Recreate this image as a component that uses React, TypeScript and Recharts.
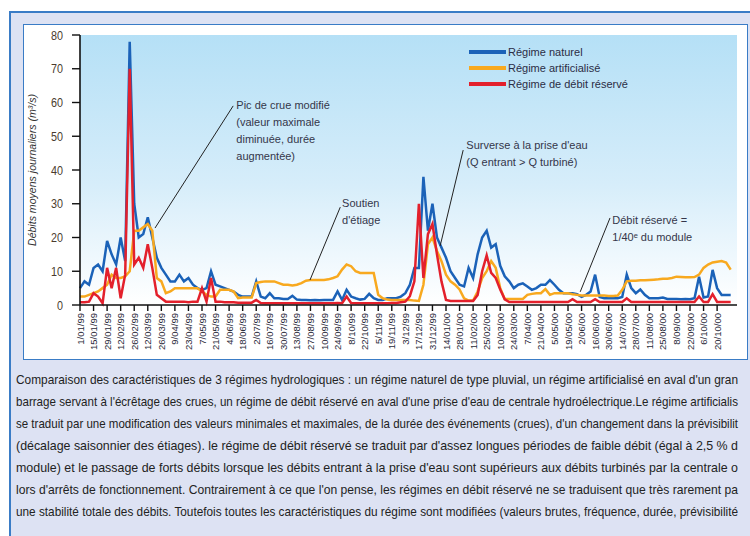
import React from "react";
import {
  LineChart,
  Line,
  XAxis,
  YAxis,
  CartesianGrid,
  Legend,
  ReferenceLine,
  ReferenceDot,
} from "recharts";

// Dates of the x-axis ticks (one every 14 days)
const dateLabels = [
  "1/01/99", "15/01/99", "29/01/99", "12/02/99", "26/02/99", "12/03/99", "26/03/99", "9/04/99",
  "23/04/99", "7/05/99", "21/05/99", "4/06/99", "18/06/99", "2/07/99", "16/07/99", "30/07/99",
  "13/08/99", "27/08/99", "10/09/99", "24/09/99", "8/10/99", "22/10/99", "5/11/99", "19/11/99",
  "3/12/99", "17/12/99", "31/12/99", "14/01/00", "28/01/00", "11/02/00", "25/02/00", "10/03/00",
  "24/03/00", "7/04/00", "21/04/00", "5/05/00", "19/05/00", "2/06/00", "16/06/00", "30/06/00",
  "14/07/00", "28/07/00", "11/08/00", "25/08/00", "8/09/00", "22/09/00", "6/10/00", "20/10/00",
];
const SAMPLES_PER_TICK = 3;

// Régime naturel (m3/s), one value every ~4.7 days
const naturel = [
  5, 7, 6, 11, 12, 10, 19, 15, 12, 20,
  13, 78, 30, 20, 21, 26, 20, 14, 11, 9,
  7, 7, 9, 7, 8, 6, 5, 4.5, 5, 10,
  6, 5.5, 5, 4.5, 4, 3, 2.5, 2.5, 2.5, 7,
  2.5, 2, 3.5, 2, 2, 1.8, 1.8, 2.7, 1.6, 1.5,
  1.5, 1.4, 1.5, 1.4, 1.5, 1.5, 1.5, 4, 1.5, 4.5,
  2.5, 2, 1.6, 1.8, 3.3, 2, 1.5, 1.5, 2, 2,
  2, 2.5, 3.5, 6, 11, 11, 38, 22, 30, 20,
  17, 14, 10, 8, 6, 5.5, 11, 8, 15, 20,
  22, 17, 18, 11.6, 8.5, 7, 5, 6, 6.4, 5.5,
  4.5, 5, 6, 6, 7.4, 6, 4.5, 3.5, 3.5, 3.5,
  3.2, 2.4, 3, 4, 9, 2.4, 2, 2, 2, 2,
  2.4, 9, 5, 3.5, 4.6, 3, 2, 2, 2, 2.2,
  1.8, 1.8, 1.8, 1.7, 1.8, 1.7, 2, 8.4, 2.2, 2.5,
  10.4, 5, 3, 3, 3,
];

// Régime artificialisé
const artificialise = [
  2.5, 2.5, 3, 3.5, 4, 5, 6, 9, 8, 8,
  8.5, 10, 22, 22, 23, 24, 22, 8, 7, 3.5,
  4, 5, 5, 5, 5, 5, 5, 4, 3, 2.5,
  2.5, 4.5, 4.5, 4.5, 4, 2, 2.2, 2.2, 2.2, 6.5,
  6.8, 7, 7, 7, 6.5, 6, 6, 5.8, 6, 6.5,
  7.2, 7.4, 7.4, 7.4, 7.4, 7.6, 8, 8.5, 10.5, 12,
  11.5, 10, 9.5, 9.5, 9.5, 9.5, 3, 2, 1.6, 1.5,
  1.5, 1.5, 1.5, 1.5, 1.3, 1.2, 6, 18, 20, 16,
  13, 9, 7, 6, 4.6, 2, 1.3, 1.3, 4, 8,
  10, 13, 11, 5, 1.8, 1.8, 1.8, 1.8, 1.8, 3,
  3.3, 3.5, 3.5, 4.7, 3, 3.5, 3.5, 3.5, 3.5, 3.2,
  3, 2.8, 2.8, 2.8, 2.8, 2.8, 2.8, 2.7, 2.7, 2.8,
  4.5, 7, 7.2, 7.2, 7.3, 7.3, 7.4, 7.5, 7.6, 7.8,
  7.8, 8, 8.4, 8.3, 8.2, 8.2, 8.3, 9, 11, 12,
  12.6, 12.8, 13, 12.6, 10.5,
];

// Régime de débit réservé
const reserve = [
  0.8, 0.8, 1, 3.5, 2.5, 0.5, 11, 5, 11, 2,
  9, 70, 12, 14, 11, 18, 11, 3, 2, 1,
  1, 1, 1, 1, 0.8, 1, 1, 5, 1, 8,
  1, 1, 0.8, 0.8, 0.8, 0.7, 0.7, 0.7, 0.7, 1.5,
  0.6, 0.5, 0.5, 0.5, 0.5, 0.5, 0.5, 0.5, 0.5, 0.5,
  0.5, 0.5, 0.5, 0.5, 0.5, 0.5, 0.5, 0.6, 0.5, 2.5,
  0.6, 0.5, 0.5, 0.5, 0.5, 0.5, 0.5, 0.5, 0.5, 0.6,
  0.6, 0.8, 1, 2.6, 7, 30, 8, 21, 24, 15,
  7, 1.5, 1.2, 1.2, 1.2, 1.2, 1.2, 1.2, 3, 10,
  14.7, 9.5, 8, 4.6, 1.7, 0.9, 0.9, 0.9, 0.9, 0.9,
  0.9, 0.9, 0.9, 0.9, 0.9, 0.9, 0.9, 0.9, 0.9, 1.7,
  0.9, 0.9, 0.9, 0.9, 1.7, 0.9, 0.9, 0.9, 0.9, 0.9,
  0.9, 2, 0.9, 0.9, 0.9, 0.9, 0.9, 0.9, 0.9, 0.9,
  0.9, 0.9, 0.9, 0.9, 0.9, 0.9, 0.9, 2.5, 0.9, 0.9,
  3.2, 0.9, 0.9, 0.9, 0.9,
];

const yTicks = [0, 10, 20, 30, 40, 50, 60, 70, 80];

const seriesNames = ["Régime naturel", "Régime artificialisé", "Régime de débit réservé"];
const seriesColors = ["#1b62b8", "#f8a91f", "#e3202c"];

// Annotations: text lines, text anchor (sample index, value), leader from / to
const annotations = [
  {
    lines: ["Pic de crue modifié", "(valeur maximale", "diminuée, durée", "augmentée)"],
    at: { x: 34.6, y: 59.2 },
    from: { x: 33.9, y: 59.0 },
    to: { x: 16.6, y: 22.8 },
  },
  {
    lines: ["Soutien", "d'étiage"],
    at: { x: 58.0, y: 30.2 },
    from: { x: 57.6, y: 29.0 },
    to: { x: 50.9, y: 7.4 },
  },
  {
    lines: ["Surverse à la prise d'eau", "(Q entrant > Q turbiné)"],
    at: { x: 85.5, y: 47.4 },
    from: { x: 84.8, y: 45.9 },
    to: { x: 79.7, y: 17.5 },
  },
  {
    lines: ["Débit réservé =", "1/40ᵉ du module"],
    at: { x: 117.8, y: 25.2 },
    from: { x: 117.3, y: 25.8 },
    to: { x: 110.7, y: 3.9 },
  },
];

const captionLines = [
  "Comparaison des caractéristiques de 3 régimes hydrologiques : un régime naturel de type pluvial, un régime artificialisé en aval d'un gran",
  "barrage servant à l'écrêtage des crues, un régime de débit réservé en aval d'une prise d'eau de centrale hydroélectrique.Le régime artificialis",
  "se traduit par une modification des valeurs minimales et maximales, de la durée des événements (crues), d'un changement dans la prévisibilit",
  "(décalage saisonnier des étiages). le régime de débit réservé se traduit par d'assez longues périodes de faible débit (égal à 2,5 % d",
  "module) et le passage de forts débits lorsque les débits entrant à la prise d'eau sont supérieurs aux débits turbinés par la centrale o",
  "lors d'arrêts de fonctionnement. Contrairement à ce que l'on pense, les régimes en débit réservé ne se traduisent que très rarement pa",
  "une stabilité totale des débits. Toutefois toutes les caractéristiques du régime sont modifiées (valeurs brutes, fréquence, durée, prévisibilité",
];

const FONT = "'Liberation Sans', Arial, sans-serif";

const data = naturel.map((v, i) => ({
  i,
  naturel: v,
  artificialise: artificialise[i],
  reserve: reserve[i],
}));

const xTicks = dateLabels.map((_, k) => k * SAMPLES_PER_TICK);

const XTick = (props: any) => {
  const { x, y, payload } = props;
  const label = dateLabels[Math.round(payload.value / SAMPLES_PER_TICK)];
  return (
    <g transform={`translate(${x},${y})`}>
      <text
        transform="rotate(-90)"
        dy={3.5}
        textAnchor="end"
        fontSize={9.5}
        fontFamily={FONT}
        fill="#2a2a3a"
      >
        {label}
      </text>
    </g>
  );
};

const YTick = (props: any) => {
  const { x, y, payload } = props;
  const s = String(payload.value);
  return (
    <text
      x={x}
      y={y}
      dy={4.5}
      textAnchor="end"
      fontSize={13}
      fontFamily={FONT}
      fill="#4a3b2e"
      textLength={s.length * 6}
      lengthAdjust="spacingAndGlyphs"
    >
      {s}
    </text>
  );
};

const YTitle = (props: any) => {
  const vb = props.viewBox || { x: 0, y: 35, width: 80, height: 270 };
  const cx = vb.x + 36;
  const cy = vb.y + vb.height / 2;
  return (
    <text
      transform={`translate(${cx},${cy}) rotate(-90)`}
      textAnchor="middle"
      fontSize={10.5}
      fontStyle="italic"
      fontFamily={FONT}
      fill="#333"
      textLength={152}
      lengthAdjust="spacingAndGlyphs"
    >
      Débits moyens journaliers (m³/s)
    </text>
  );
};

const makeAnnoShape = (lines: string[]) => (props: any) => {
  const { cx, cy } = props;
  return (
    <g>
      {lines.map((t, k) => (
        <text
          key={k}
          x={cx}
          y={cy + 4 + k * 17}
          fontSize={11}
          fontFamily={FONT}
          fill="#34364a"
        >
          {t}
        </text>
      ))}
    </g>
  );
};

const renderLegend = (props: any) => {
  const items = [...(props.payload || [])].sort(
    (a: any, b: any) => seriesNames.indexOf(a.value) - seriesNames.indexOf(b.value)
  );
  return (
    <div style={{ fontFamily: FONT }}>
      {items.map((entry: any, k: number) => (
        <div key={k} style={{ display: "flex", alignItems: "center", height: 16 }}>
          <span
            style={{ display: "inline-block", width: 37, height: 4, background: entry.color }}
          />
          <span style={{ fontSize: 11, color: "#2b2d45", marginLeft: 2, whiteSpace: "nowrap" }}>
            {entry.value}
          </span>
        </div>
      ))}
    </div>
  );
};

export default function App() {
  return (
    <div
      style={{
        position: "absolute",
        left: 0,
        top: 0,
        width: 750,
        height: 536,
        background: "#ffffff",
        overflow: "hidden",
      }}
    >
      {/* outer frame */}
      <div
        style={{
          position: "absolute",
          left: 9,
          top: 11,
          width: 760,
          height: 540,
          background: "#dde2f3",
          border: "2px solid #3a7cc6",
          boxSizing: "border-box",
        }}
      />
      {/* inner white panel */}
      <div
        style={{
          position: "absolute",
          left: 23,
          top: 24,
          width: 725,
          height: 336,
          background: "#ffffff",
          border: "1.5px solid #3a7cc6",
          boxSizing: "border-box",
        }}
      />
      <div style={{ position: "absolute", left: 0, top: 0 }}>
        <LineChart
          width={750}
          height={536}
          data={data}
          margin={{ top: 35, right: 13, left: 0, bottom: 171 }}
        >
          <defs>
            <linearGradient id="plotBg" x1="0" y1="0" x2="0" y2="1">
              <stop offset="0" stopColor="#b5e0f6" />
              <stop offset="0.55" stopColor="#d6edfa" />
              <stop offset="1" stopColor="#ffffff" />
            </linearGradient>
          </defs>
          <CartesianGrid fill="url(#plotBg)" horizontal={false} vertical={false} />
          <XAxis
            dataKey="i"
            type="number"
            domain={[0, 145.4]}
            ticks={xTicks}
            interval={0}
            height={60}
            tick={<XTick />}
            tickSize={6}
            tickMargin={2}
            axisLine={{ stroke: "#111", strokeWidth: 1.6 }}
            tickLine={{ stroke: "#111", strokeWidth: 1.4 }}
            allowDecimals
          />
          <YAxis
            type="number"
            domain={[0, 80]}
            ticks={yTicks}
            width={80}
            tick={<YTick />}
            tickSize={8}
            tickMargin={9}
            axisLine={{ stroke: "#111", strokeWidth: 1.6 }}
            tickLine={{ stroke: "#111", strokeWidth: 1.4 }}
            label={{ content: (p: any) => <YTitle {...p} /> }}
          />
          <Legend
            layout="vertical"
            align="center"
            verticalAlign="middle"
            content={renderLegend}
            wrapperStyle={{ left: 469, top: 44, width: 200, height: 50 }}
          />
          <Line
            type="linear"
            dataKey="naturel"
            name={seriesNames[0]}
            stroke={seriesColors[0]}
            strokeWidth={2.5}
            dot={false}
            isAnimationActive={false}
          />
          <Line
            type="linear"
            dataKey="artificialise"
            name={seriesNames[1]}
            stroke={seriesColors[1]}
            strokeWidth={2.5}
            dot={false}
            isAnimationActive={false}
          />
          <Line
            type="linear"
            dataKey="reserve"
            name={seriesNames[2]}
            stroke={seriesColors[2]}
            strokeWidth={2.5}
            dot={false}
            isAnimationActive={false}
          />
          {annotations.map((a, k) => (
            <ReferenceLine
              key={"l" + k}
              segment={[a.from, a.to]}
              stroke="#222"
              strokeWidth={1}
            />
          ))}
          {annotations.map((a, k) => (
            <ReferenceDot
              key={"t" + k}
              x={a.at.x}
              y={a.at.y}
              r={1}
              shape={makeAnnoShape(a.lines)}
            />
          ))}
        </LineChart>
      </div>
      {/* caption */}
      <svg
        width={750}
        height={536}
        style={{ position: "absolute", left: 0, top: 0, pointerEvents: "none" }}
      >
        {captionLines.map((t, k) => (
          <text
            key={k}
            x={16}
            y={384 + k * 22}
            fontSize={13.5}
            fontFamily={FONT}
            fill="#222"
            textLength={722}
            lengthAdjust="spacingAndGlyphs"
          >
            {t}
          </text>
        ))}
      </svg>
    </div>
  );
}
